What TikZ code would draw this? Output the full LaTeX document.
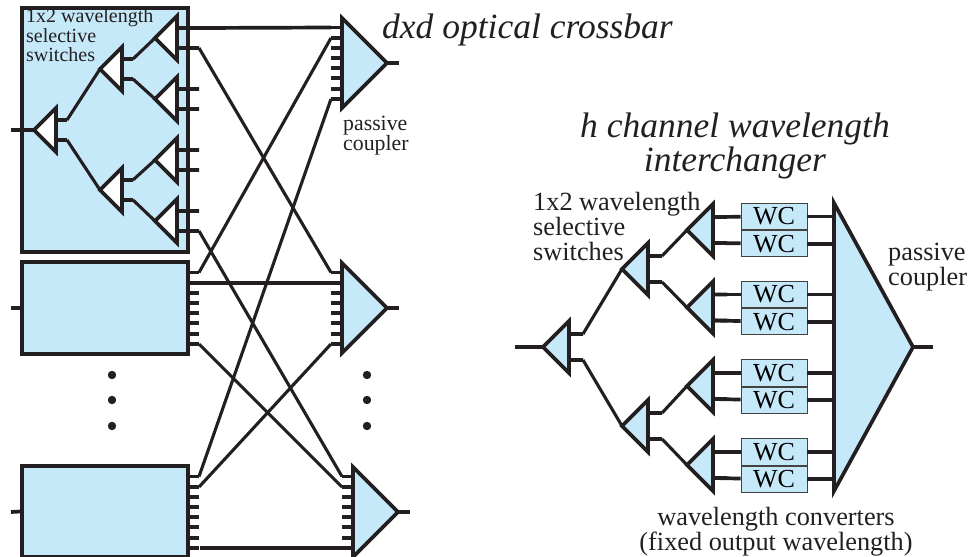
\documentclass[tikz,border=0pt]{standalone}
\usepackage{fontspec}
\setmainfont{Liberation Serif}
\usetikzlibrary{positioning}
\usetikzlibrary{calc}
\definecolor{panelblue}{HTML}{C6E9FA}
\definecolor{inkblack}{HTML}{231F20}
\tikzset{ %Triangles des commutateurs
    tri length/.code={\def\trilength{#1}},
    tri half/.code={\def\trihalf{#1}},
    tri gap/.code={\def\trigap{#1}},
    tri stub/.code={\def\tristub{#1}},
    tri length=22, tri half=22, tri gap=10, tri stub=11,
    wss/.style n args={3}{
        insert path={
            (#1,#2) coordinate (#3) -- (#1+\trilength,#2-\trihalf) -- (#1+\trilength,#2+\trihalf) -- cycle
            (#1+\trilength,#2-\trigap) coordinate (#3up) -- ++(\tristub,0) coordinate (#3upe)
            (#1+\trilength,#2+\trigap) coordinate (#3dn) -- ++(\tristub,0) coordinate (#3dne)
        }
    },
    wire/.style={line width=3.7pt,color=inkblack,line join=miter},
    tinywire/.style={line width=3.4pt,color=inkblack,line join=miter},
    crosswire/.style={line width=3.1pt,color=inkblack,line join=miter},
    card/.style={draw=inkblack,line width=3.2pt,fill=panelblue,inner sep=0pt,minimum width=166pt},
    wcbox/.style={draw=inkblack!85,line width=0.9pt,fill=panelblue,inner sep=0pt,minimum width=66pt,minimum height=26.3pt,font=\fontsize{26}{26}\selectfont},
    small label/.style={align=left,inner sep=0pt,anchor=north west,text=inkblack,font=\fontsize{20}{19.5}\selectfont},
    big label/.style={align=left,inner sep=0pt,anchor=north west,text=inkblack,font=\fontsize{26.3}{25}\selectfont},
    title label/.style={align=center,inner sep=0pt,text=inkblack,font=\fontsize{35.5}{32}\selectfont\itshape},
}
\begin{document}
\begin{tikzpicture}[x=1pt,y=-1pt]
    \useasboundingbox (0,0) rectangle (970,557);
    % cartes de gauche
    \node[card,minimum height=244pt] (box1) at (105,130) {};
    \node[card,minimum height=92pt] (box2) at (105,308) {};
    \node[card,minimum height=91pt] (box3) at (105,511.5) {};
    \coordinate (in1) at (11,130);
    \coordinate (in2) at (11,308);
    \coordinate (in3) at (11,512);
    \draw[wire] (in2) -- (box2.west);
    \draw[wire] (in3) -- (box3.west);
    % commutateurs blancs
    \begin{scope}[every path/.style={wire,fill=white}]
        \draw[wss={34}{130}{sa}];
        \draw[wss={100}{69}{sb}];
        \draw[wss={100}{190}{sc}];
        \draw[tri stub=22,wss={155}{38}{la}];
        \draw[tri stub=22,wss={155}{99}{lb}];
        \draw[tri stub=22,wss={155}{160}{lc}];
        \draw[tri stub=22,wss={155}{221}{ld}];
    \end{scope}
    \draw[wire] (in1) -- (sa);
    \draw[crosswire] (saupe) -- (sb);
    \draw[crosswire] (sadne) -- (sc);
    \draw[crosswire] (sbupe) -- (la);
    \draw[crosswire] (sbdne) -- (lb);
    \draw[crosswire] (scupe) -- (lc);
    \draw[crosswire] (scdne) -- (ld);
    % coupleurs passifs
    \foreach \n/\x/\y in {1/342/63,2/342/308,3/353/512}{
        \draw[wire,fill=panelblue] (\x,\y-45) coordinate (cp\n top) -- (\x+45,\y) coordinate (cp\n) -- (\x,\y+45) -- cycle;
        \foreach \k/\d in {1/-35.5,2/-25,3/-15,4/-5,5/5,6/15,7/26,8/36}{
            \draw[tinywire] (\x,\y+\d) -- ++(-11,0) coordinate (cp\n s\k);
        }
        \draw[wire] (cp\n) -- ++(11.5,0) coordinate (cp\n out);
    }
    % sorties des cartes
    \foreach \n/\y in {2/308,3/512}{
        \foreach \k/\d in {1/-35.5,2/-25,3/-15,4/-5,5/5,6/15,7/26,8/36}{
            \draw[tinywire] (188,\y+\d) -- ++(11,0) coordinate (bx\n s\k);
        }
    }
    % le crossbar
    \draw[wire] (laupe) -- (cp1s1);
    \draw[crosswire] (ladne) -- (cp2s1);
    \draw[crosswire] (lddne) -- (cp3s1);
    \draw[crosswire] (bx2s1) -- (cp1s2);
    \draw[crosswire] (bx2s8) -- (cp3s2);
    \draw[wire] (bx2s2) -- (cp2s2);
    \draw[crosswire] (bx3s1) -- (cp1s8);
    \draw[crosswire] (bx3s2) -- (cp2s8);
    \draw[wire] ([xshift=1.2pt]bx3s8) -- (cp3s8);
    % les points
    \foreach \x in {112,367}{
        \foreach \y in {375,400,426}{
            \fill[inkblack] (\x,\y) circle (4.2);
        }
    }
    % interchanger
    \begin{scope}[every path/.style={wire,fill=panelblue},tri length=26,tri half=26,tri gap=13,tri stub=14]
        \draw[wss={543}{347}{ra}];
        \draw[wss={622}{269}{rb}];
        \draw[wss={622}{426}{rc}];
        \draw[wss={687}{230}{rd}];
        \draw[wss={687}{307.5}{re}];
        \draw[wss={687}{386}{rf}];
        \draw[wss={687}{465}{rg}];
    \end{scope}
    \draw[wire] (ra) -- ++(-28,0) coordinate (rin);
    \draw[crosswire] (raupe) -- (rb);
    \draw[crosswire] (radne) -- (rc);
    \draw[crosswire] (rbupe) -- (rd);
    \draw[crosswire] (rbdne) -- (re);
    \draw[crosswire] (rcupe) -- (rf);
    \draw[crosswire] (rcdne) -- (rg);
    \draw[wire,fill=panelblue] (834,203) coordinate (rcp top) -- (913,347) coordinate (rcp) -- (834,491) -- cycle;
    \draw[wire] (rcp) -- ++(20,0) coordinate (rout);
    \foreach \n/\y in {d/216.5,e/294.5,f/373,g/452}{
        \node[wcbox] (wc\n up) at (774,\y) {WC};
        \node[wcbox,below=0pt of wc\n up] (wc\n dn) {WC};
        \draw[wire] (r\n up) -- (wc\n up);
        \draw[wire] (r\n dn) -- (wc\n dn);
        \draw[wire] (wc\n up) -- (wc\n up -| rcp top);
        \draw[wire] (wc\n dn) -- (wc\n dn -| rcp top);
    }
    % textes
    \node[small label] (swleft) at (26,8.5) {1x2 wavelength\\selective\\switches};
    \node[small label,font=\fontsize{21.8}{20}\selectfont] (cpleft) at (343,115.5) {passive\\coupler};
    \node[big label] (swright) at (533,192.5) {1x2 wavelength\\selective\\switches};
    \node[big label] (cpright) at (888,243) {passive\\coupler};
    \node[big label,align=center,anchor=north] (wclabel) at (776,507) {wavelength converters\\(fixed output wavelength)};
    \node[title label,anchor=west] (title) at (382,30) {dxd optical crossbar};
    \node[title label] (subtitle) at (735,146) {h channel wavelength\\interchanger};
\end{tikzpicture}
\end{document}
